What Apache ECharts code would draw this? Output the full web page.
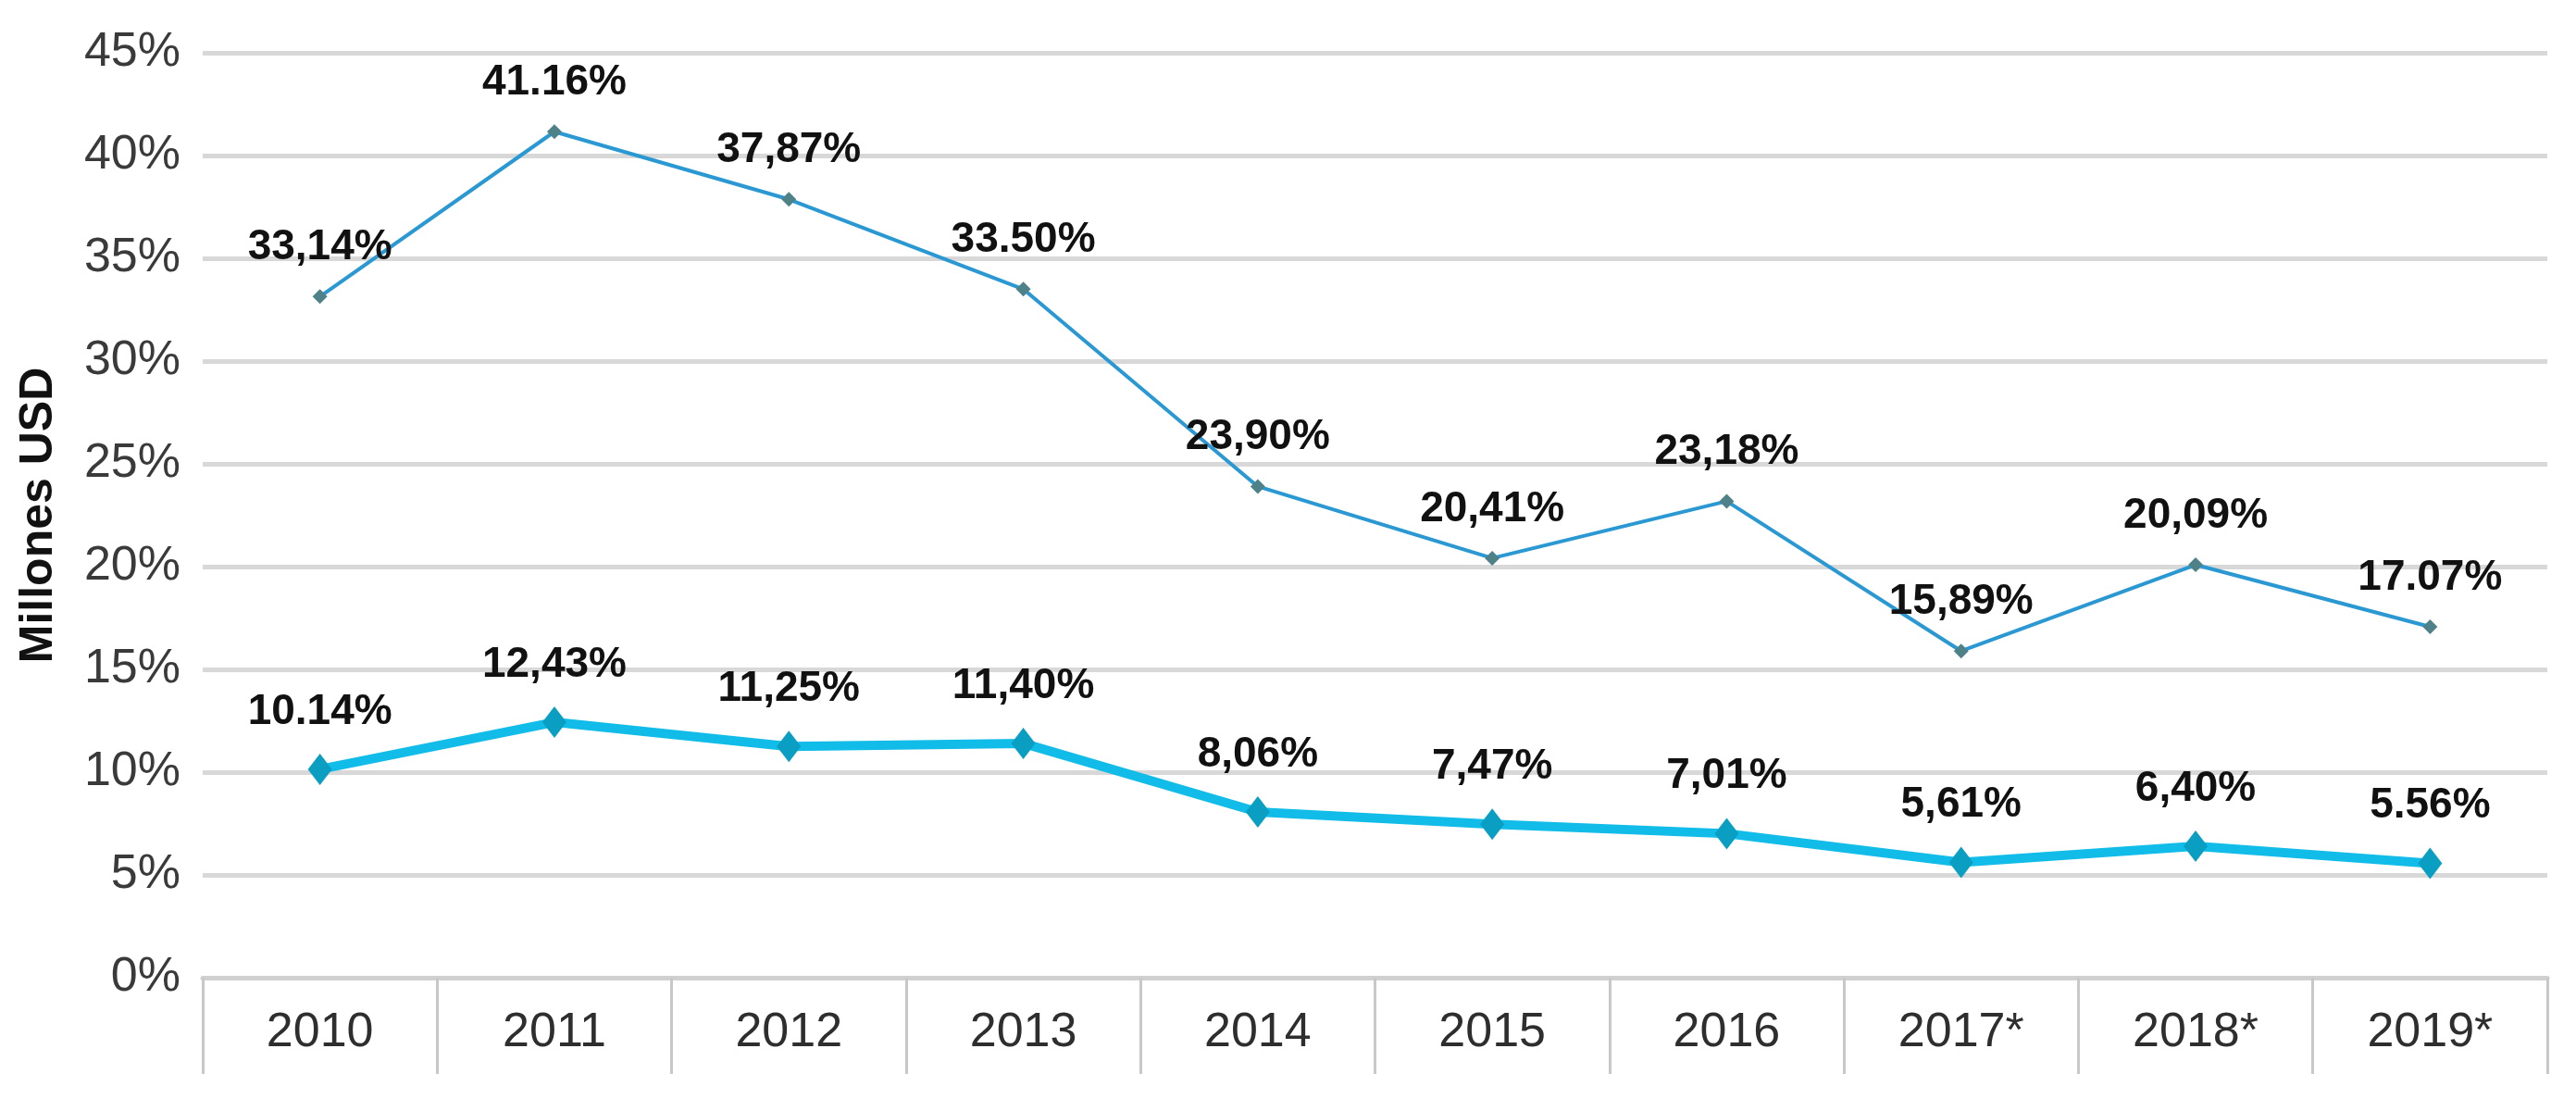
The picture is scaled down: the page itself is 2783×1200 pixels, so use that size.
<!DOCTYPE html>
<html>
<head>
<meta charset="utf-8">
<script src="https://cdn.jsdelivr.net/npm/echarts@6/dist/echarts.min.js"></script>
<style>
html,body{margin:0;padding:0;background:#fff;}
#chart{width:2783px;height:1200px;}
</style>
</head>
<body>
<div id="chart"></div>
<script>
var categories = ['2010','2011','2012','2013','2014','2015','2016','2017*','2018*','2019*'];
var upperValues = [33.14, 41.16, 37.87, 33.50, 23.90, 20.41, 23.18, 15.89, 20.09, 17.07];
var upperLabels = ['33,14%','41.16%','37,87%','33.50%','23,90%','20,41%','23,18%','15,89%','20,09%','17.07%'];
var lowerValues = [10.14, 12.43, 11.25, 11.40, 8.06, 7.47, 7.01, 5.61, 6.40, 5.56];
var lowerLabels = ['10.14%','12,43%','11,25%','11,40%','8,06%','7,47%','7,01%','5,61%','6,40%','5.56%'];
var yTicks = {min: 0, max: 45, interval: 5};
var yName = 'Millones USD';

var chart = echarts.init(document.getElementById('chart'));
var font = '"Liberation Sans Narrow", "Liberation Sans", Arial, sans-serif';
chart.setOption({
  animation: false,
  backgroundColor: '#ffffff',
  grid: {left: 219, right: 31, top: 57, bottom: 144},
  xAxis: {
    type: 'category',
    data: categories,
    boundaryGap: true,
    axisLine: {show: true, lineStyle: {color: '#d0d0d0', width: 5}},
    axisTick: {show: true, alignWithLabel: false, interval: 0, length: 104, lineStyle: {color: '#c8c8c8', width: 3}},
    axisLabel: {margin: 34, fontSize: 52, color: '#2e2e2e', fontFamily: font}
  },
  yAxis: {
    type: 'value',
    min: yTicks.min, max: yTicks.max, interval: yTicks.interval,
    name: yName,
    nameLocation: 'middle',
    nameGap: 152,
    nameTextStyle: {fontSize: 50, fontWeight: 'bold', color: '#111', fontFamily: font},
    axisLine: {show: false},
    axisTick: {show: false},
    axisLabel: {margin: 24, fontSize: 52, color: '#3a3a3a', fontFamily: font, formatter: '{value}%'},
    splitLine: {lineStyle: {color: '#d8d8d8', width: 5}}
  },
  series: [
    {
      type: 'line',
      data: upperValues,
      symbol: 'diamond',
      symbolSize: 16,
      itemStyle: {color: '#4f8189'},
      lineStyle: {color: '#2a98d2', width: 4},
      label: {
        show: true, position: 'top', distance: 22,
        fontSize: 46, fontWeight: 'bold', color: '#111', fontFamily: font,
        formatter: function(p){ return upperLabels[p.dataIndex]; }
      },
      z: 3
    },
    {
      type: 'line',
      data: lowerValues,
      symbol: 'diamond',
      symbolSize: [26, 34],
      itemStyle: {color: '#0a9ec2'},
      lineStyle: {color: '#12bce8', width: 10},
      label: {
        show: true, position: 'top', distance: 22,
        fontSize: 46, fontWeight: 'bold', color: '#111', fontFamily: font,
        formatter: function(p){ return lowerLabels[p.dataIndex]; }
      },
      z: 4
    }
  ]
});
</script>
</body>
</html>
